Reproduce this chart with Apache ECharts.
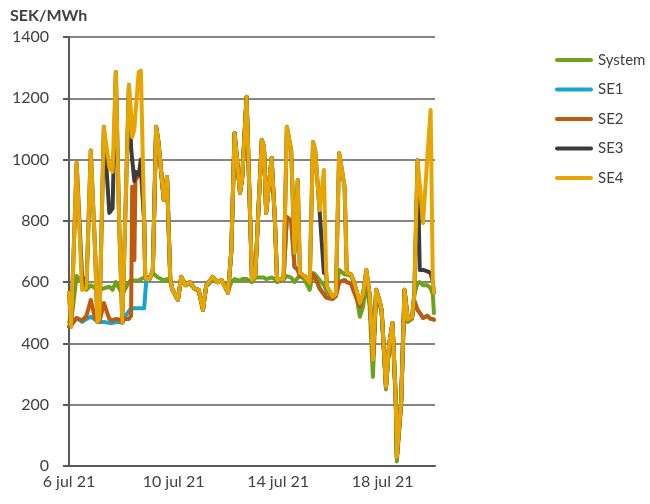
<!DOCTYPE html>
<html>
<head>
<meta charset="utf-8">
<script src="https://cdn.jsdelivr.net/npm/echarts@6/dist/echarts.min.js"></script>
<style>html,body{margin:0;padding:0;background:#fff}#c{width:650px;height:504px}</style>
</head>
<body>
<div id="c"></div>
<script>
// hours since 6 jul 21 00:00
const hours = [0,2,7,12,16,20,24,26,28,32,37,40,43,46,49,50,55,57,58,60,61,64,66,69,70,71,74,77,80,82,87,90,93,95,100,103,107,111,115,119,123,126,132,136,140,144,146,149,152,157,159,163,168,171,177,179,181,186,189,191,197,200,204,207,210,212,216,221,224,226,230,234,236,237,242,245,248,253,255,259,262,267,270,273,276,279,282,285,287,291,294,297,300,301,305,308,311,315,317,320,322,325,329,332,334,335];

const seriesNames = ['System','SE1','SE2','SE3','SE4'];

const system = [470,470,620,600,575,590,580,575,575,580,
585,575,600,580,560,560,600,607,607,605,
610,605,610,615,615,615,615,630,620,615,
605,610,600,575,542,610,590,595,580,570,
515,585,610,600,605,585,570,600,610,605,
610,610,600,615,615,615,610,615,610,600,
610,620,615,600,615,620,610,575,630,625,
607,590,575,565,552,560,640,625,625,620,
595,487,520,600,520,291,560,530,500,250,
390,460,200,15,200,560,470,480,560,597,
600,590,590,580,560,499];

const se1 = [455,460,483,470,480,487,478,476,470,470,
467,467,470,470,470,480,505,515,515,515,
515,515,515,515,515,607,610,640,1107,1060,
868,943,607,575,542,617,590,600,580,575,
509,590,617,600,607,580,565,700,1087,891,
940,1205,607,620,1064,1040,826,1005,803,607,
610,813,800,650,640,620,620,597,625,615,
580,560,550,548,545,555,600,607,600,595,
565,520,555,630,555,346,575,540,509,258,
400,467,215,29,215,575,477,487,540,509,
500,483,490,480,480,477];

const se2 = [455,460,483,475,490,542,480,476,470,532,
480,475,480,478,470,480,480,490,911,672,
933,950,960,800,617,610,610,640,1107,1060,
868,943,607,575,542,617,590,600,580,575,
509,590,617,600,607,580,565,700,1087,891,
940,1205,607,620,1064,1040,826,1005,803,607,
610,813,800,650,640,620,620,597,625,615,
580,560,550,548,545,555,600,607,600,595,
565,520,555,630,555,346,575,540,509,258,
400,467,215,29,215,575,477,487,540,509,
500,483,490,480,480,477];

const se3 = [565,455,990,620,580,1030,700,470,480,1107,
826,840,1285,800,467,470,1243,1040,1000,930,
960,950,1000,800,617,610,610,640,1107,1060,
868,943,607,575,542,617,590,600,580,575,
509,590,617,600,607,580,565,700,1087,891,
940,1205,607,620,1064,1040,826,1005,803,607,
610,1107,1030,695,933,630,620,597,1057,1030,
835,630,630,584,552,560,1021,911,630,625,
597,532,560,640,560,346,575,540,509,258,
400,467,215,29,215,575,477,487,560,999,
640,640,635,630,600,565];

const se4 = [565,455,990,575,580,1030,700,470,480,1107,
975,960,1285,800,467,470,1243,1150,1073,1100,
1150,1285,1290,800,617,610,610,640,1107,1060,
868,943,607,575,542,617,590,600,580,575,
509,590,617,600,607,580,565,700,1087,891,
940,1205,607,620,1064,1040,826,1005,803,607,
610,1107,1030,695,933,630,620,597,1057,1030,
835,966,640,584,552,560,1021,911,630,625,
597,532,560,640,560,346,575,540,509,258,
400,467,215,29,215,575,477,487,560,999,
920,793,1009,1162,600,565];

const xTickLabels = ['6 jul 21','10 jul 21','14 jul 21','18 jul 21'];
const yTicks = [0,200,400,600,800,1000,1200,1400];

const colors = ['#6BA31F','#17A5D3','#C05A0C','#3C3C3C','#E6A500'];
const values = [system, se1, se2, se3, se4];

const chart = echarts.init(document.getElementById('c'), null, {renderer:'canvas'});
const font = 'Lato, "Open Sans", sans-serif';

chart.setOption({
  animation: false,
  color: colors,
  title: {
    text: 'SEK/MWh', left: 5, top: 3,
    textStyle: {fontFamily: font, fontSize: 16, fontWeight: 'bold', color: '#404040'}
  },
  legend: {
    orient: 'vertical', left: 550, top: 46,
    itemWidth: 38, itemHeight: 4, itemGap: 11.5,
    icon: 'path://M2,0 L36,0 A2,2 0 0 1 36,4 L2,4 A2,2 0 0 1 2,0 Z',
    textStyle: {fontFamily: font, fontSize: 15, color: '#404040', lineHeight: 18},
    data: seriesNames
  },
  grid: {left: 69, right: 215, top: 37, bottom: 38, containLabel: false},
  xAxis: {
    type: 'value', min: 0, max: 336, interval: 96,
    axisLine: {show: true, onZero: false, lineStyle: {color: '#595959', width: 2}},
    axisTick: {show: false},
    splitLine: {show: false},
    axisLabel: {
      margin: 8, fontFamily: font, fontSize: 16, color: '#404040',
      formatter: function (v) { const i = Math.round(v / 96); return (v % 96 === 0 && xTickLabels[i]) ? xTickLabels[i] : ''; }
    }
  },
  yAxis: {
    type: 'value', min: yTicks[0], max: yTicks[yTicks.length - 1], interval: 200,
    axisLine: {show: true, lineStyle: {color: '#595959', width: 2}},
    axisTick: {show: true, length: 6, lineStyle: {color: '#595959', width: 2}},
    splitLine: {show: true, lineStyle: {color: '#858585', width: 2}},
    axisLabel: {margin: 20, fontFamily: font, fontSize: 16, color: '#404040',
      formatter: function (v) { return String(v); }}
  },
  series: seriesNames.map(function (name, k) {
    return {
      name: name, type: 'line', symbol: 'none', showSymbol: false,
      lineStyle: {width: 4, color: colors[k], join: 'round', cap: 'round'},
      itemStyle: {color: colors[k]},
      z: 2 + k,
      data: hours.map(function (h, i) { return [h, values[k][i]]; })
    };
  })
});
</script>
</body>
</html>
